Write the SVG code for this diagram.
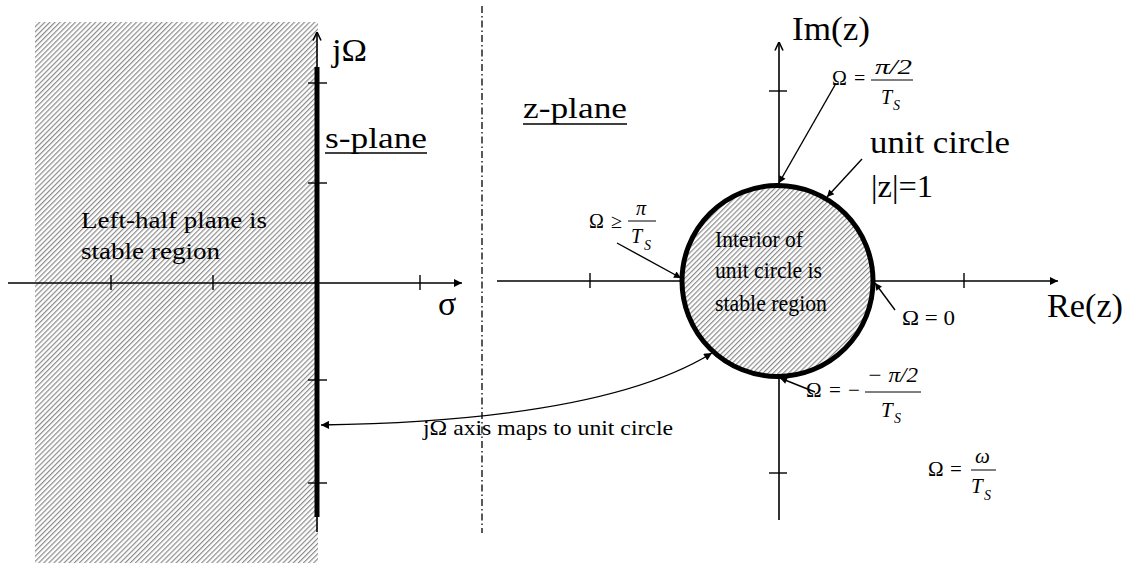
<svg xmlns="http://www.w3.org/2000/svg" width="1130" height="563" viewBox="0 0 1130 563" font-family="'Liberation Serif', 'Times New Roman', Times, serif">
<style>
text{font-family:"Liberation Serif","Times New Roman",Times,serif;fill:#000}
.ax{stroke:#000;stroke-width:1.6;fill:none}
.tk{stroke:#000;stroke-width:1.4}
.ar{stroke:#000;stroke-width:1.4;fill:none}
.i{font-style:italic}
.f{font-size:20px}
.sub{font-size:14px;font-style:italic}
</style>
<defs>
<pattern id="hatch" patternUnits="userSpaceOnUse" width="3.6" height="3.6" patternTransform="rotate(45)">
<rect width="3.6" height="3.6" fill="#fff"/>
<line x1="0.6" y1="0" x2="0.6" y2="3.6" stroke="#888" stroke-width="1.15"/>
</pattern>
<marker id="ah" viewBox="0 0 10 10" refX="10" refY="5" markerWidth="11" markerHeight="8" markerUnits="userSpaceOnUse" orient="auto-start-reverse">
<path d="M0,0 L10,5 L0,10 z" fill="#000"/>
</marker>
<marker id="ahs" viewBox="0 0 10 10" refX="10" refY="5" markerWidth="10" markerHeight="7" markerUnits="userSpaceOnUse" orient="auto-start-reverse">
<path d="M0,0 L10,5 L0,10 z" fill="#000"/>
</marker>
<marker id="oa" viewBox="0 0 10 10" refX="9.5" refY="5" markerWidth="10" markerHeight="10" markerUnits="userSpaceOnUse" orient="auto">
<path d="M1,1 L9.5,5 L1,9" fill="none" stroke="#000" stroke-width="1.6"/>
</marker>
</defs>
<rect width="1130" height="563" fill="#fff"/>

<g id="s-plane">
<rect x="35" y="22" width="283" height="541" fill="url(#hatch)"/>
<line class="ax" x1="8" y1="283" x2="462" y2="283" marker-end="url(#ah)"/>
<line class="ax" x1="317" y1="532" x2="317" y2="32" marker-end="url(#oa)"/>
<line x1="317" y1="67" x2="317" y2="517" stroke="#000" stroke-width="5"/>
<line class="tk" x1="111" y1="275" x2="111" y2="290"/>
<line class="tk" x1="213" y1="275" x2="213" y2="290"/>
<line class="tk" x1="420" y1="275" x2="420" y2="290"/>
<line class="tk" x1="308" y1="83" x2="327" y2="83"/>
<line class="tk" x1="308" y1="183" x2="327" y2="183"/>
<line class="tk" x1="308" y1="380" x2="327" y2="380"/>
<line class="tk" x1="308" y1="483" x2="327" y2="483"/>
<text x="332" y="61" font-size="32" textLength="35" lengthAdjust="spacingAndGlyphs">jΩ</text>
<text x="438" y="315" font-size="34">σ</text>
<text x="325" y="148" font-size="29" textLength="102" lengthAdjust="spacingAndGlyphs">s-plane</text>
<line x1="325" y1="153" x2="427" y2="153" stroke="#000" stroke-width="1.5"/>
<text x="81" y="228" font-size="24" textLength="186" lengthAdjust="spacingAndGlyphs">Left-half plane is</text>
<text x="81" y="259" font-size="24" textLength="139" lengthAdjust="spacingAndGlyphs">stable region</text>
</g>

<g id="divider">
<line x1="482" y1="6" x2="482" y2="533" stroke="#000" stroke-width="1.3" stroke-dasharray="7 3 1.5 3"/>
</g>

<g id="z-plane">
<line class="ax" x1="497" y1="281" x2="1058" y2="281" marker-end="url(#ah)"/>
<line class="ax" x1="779" y1="520" x2="779" y2="42" marker-end="url(#oa)"/>
<line class="tk" x1="590" y1="273" x2="590" y2="288"/>
<line class="tk" x1="964" y1="273" x2="964" y2="288"/>
<line class="tk" x1="769" y1="91" x2="787" y2="91"/>
<line class="tk" x1="769" y1="473" x2="787" y2="473"/>
<text x="792" y="40" font-size="34" textLength="78" lengthAdjust="spacingAndGlyphs">Im(z)</text>
<text x="1047" y="317" font-size="33" textLength="76" lengthAdjust="spacingAndGlyphs">Re(z)</text>
<text x="523" y="118" font-size="29" textLength="104" lengthAdjust="spacingAndGlyphs">z-plane</text>
<line x1="523" y1="124" x2="627" y2="124" stroke="#000" stroke-width="1.5"/>
</g>

<g id="unit-circle">
<circle cx="777.5" cy="281" r="95.5" fill="url(#hatch)" stroke="#000" stroke-width="5"/>
<text x="715" y="247" font-size="23" textLength="88" lengthAdjust="spacingAndGlyphs">Interior of</text>
<text x="715" y="278" font-size="23" textLength="107" lengthAdjust="spacingAndGlyphs">unit circle is</text>
<text x="715" y="311" font-size="23" textLength="112" lengthAdjust="spacingAndGlyphs">stable region</text>
<text x="870" y="153" font-size="31" textLength="140" lengthAdjust="spacingAndGlyphs">unit circle</text>
<text x="871" y="197" font-size="31" textLength="62" lengthAdjust="spacingAndGlyphs">|z|=1</text>
</g>

<g id="label-pi2">
<text x="832" y="85" class="f">Ω</text>
<text x="854" y="85" class="f">=</text>
<text x="875" y="74" class="f i" textLength="37" lengthAdjust="spacingAndGlyphs">π/2</text>
<line x1="871" y1="80" x2="913" y2="80" stroke="#000" stroke-width="1"/>
<text x="881" y="104" class="f i">T</text>
<text x="893" y="110" class="sub">S</text>
</g>

<g id="label-pi">
<text x="589" y="228" class="f">Ω</text>
<text x="611" y="228" class="f">≥</text>
<text x="636" y="215" class="f i">π</text>
<line x1="628" y1="221" x2="656" y2="221" stroke="#000" stroke-width="1"/>
<text x="631" y="243" class="f i">T</text>
<text x="644" y="250" class="sub">S</text>
</g>

<g id="label-zero">
<text x="902" y="325" class="f" textLength="53" lengthAdjust="spacingAndGlyphs">Ω = 0</text>
</g>

<g id="label-negpi2">
<text x="806" y="397" font-size="21">Ω</text>
<text x="829" y="397" font-size="21">=</text>
<text x="848" y="397" font-size="21">−</text>
<text x="867" y="382" font-size="21" class="i" textLength="51" lengthAdjust="spacingAndGlyphs">− π/2</text>
<line x1="865" y1="392" x2="921" y2="392" stroke="#000" stroke-width="1"/>
<text x="881" y="417" font-size="21" class="i">T</text>
<text x="894" y="423" class="sub">S</text>
</g>

<g id="label-omega">
<text x="928" y="476" font-size="21">Ω</text>
<text x="950" y="476" font-size="21">=</text>
<text x="975" y="463" font-size="21" class="i">ω</text>
<line x1="971" y1="470" x2="996" y2="470" stroke="#000" stroke-width="1"/>
<text x="971" y="493" font-size="21" class="i">T</text>
<text x="984" y="500" class="sub">S</text>
</g>

<g id="mapping-label">
<text x="423" y="435" font-size="21" textLength="250" lengthAdjust="spacingAndGlyphs">jΩ axis maps to unit circle</text>
</g>

<g id="connectors">
<line class="ar" x1="835" y1="85" x2="779" y2="183" marker-end="url(#ahs)"/>
<line class="ar" x1="862" y1="159" x2="827" y2="197" marker-end="url(#ahs)"/>
<line class="ar" x1="617" y1="243" x2="681" y2="278" marker-end="url(#ahs)"/>
<line class="ar" x1="895" y1="310" x2="875" y2="283" marker-end="url(#ahs)"/>
<line class="ar" x1="815" y1="392" x2="780" y2="378" marker-end="url(#ahs)"/>
<path class="ar" d="M 321 425 C 450 423, 620 410, 712 353" marker-start="url(#ah)" marker-end="url(#ah)"/>
</g>
</svg>
